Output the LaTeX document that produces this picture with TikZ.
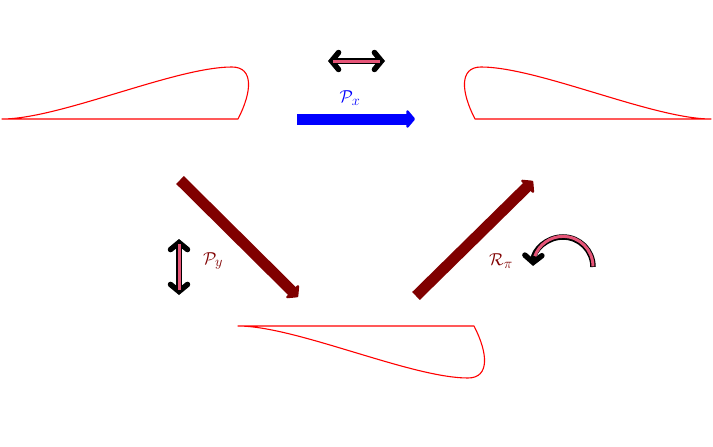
\documentclass[tikz,border=0pt]{standalone}
\usetikzlibrary{arrows.meta}
\definecolor{mar}{RGB}{128,0,0}
\definecolor{pnk}{RGB}{230,85,120}
\begin{document}
\begin{tikzpicture}[x=1pt,y=-1pt,
  wing/.style={draw=red, line width=1.1pt, line join=round},
  bigarrow/.style={line width=11pt, -{Triangle[round,length=9pt,width=21pt]}},
  dbl/.style={line width=5.5pt, black, {Straight Barb[length=7pt,width=17pt,line cap=round]}-{Straight Barb[length=7pt,width=17pt,line cap=round]}},
  pinkline/.style={line width=3pt, pnk},
  lbl/.style={font=\fontsize{19}{22}\selectfont}]
\useasboundingbox (0,0) rectangle (713,447);
% wing A (top left)
\draw[wing] (2,119) .. controls (60,119) and (175,67) .. (232,67)
  .. controls (254,67) and (252,92) .. (238,119) -- cycle;
% wing B (top right, mirrored)
\draw[wing] (711,119) .. controls (653,119) and (538,67) .. (481,67)
  .. controls (459,67) and (461,92) .. (475,119) -- cycle;
% wing C (bottom, flipped)
\draw[wing] (238,326) .. controls (296,326) and (411,378) .. (468,378)
  .. controls (490,378) and (488,353) .. (474,326) -- cycle;
% coordinates
\coordinate (bxs) at (297,119);
\coordinate (bxe) at (415,119);
\coordinate (a1s) at (180,180);
\coordinate (a1e) at (298,297);
\coordinate (a2s) at (416,296);
\coordinate (a2e) at (533,181);
% blue arrow
\draw[bigarrow, blue] (bxs) -- (bxe);
\node[lbl, blue] (px) at (350,98) {$\mathcal{P}_x$};
% dark red arrows
\draw[bigarrow, mar] (a1s) -- (a1e);
\draw[bigarrow, mar] (a2s) -- (a2e);
\node[lbl, mar] (py) at (213,261) {$\mathcal{P}_y$};
\node[lbl, mar] (rp) at (501,261) {$\mathcal{R}_\pi$};
% double arrows
\coordinate (hl) at (328,61);
\coordinate (hr) at (385,61);
\draw[dbl] (hl) -- (hr);
\draw[pinkline] ([xshift=5pt]hl) -- ([xshift=-5pt]hr);
\coordinate (vt) at (179,239);
\coordinate (vb) at (179,295);
\draw[dbl] (vt) -- (vb);
\draw[pinkline] ([yshift=-5pt]vt) -- ([yshift=5pt]vb);
% curved arrow
\coordinate (cs) at (593,267);
\draw[line width=5.5pt, black, -{Straight Barb[length=7pt,width=17pt,line cap=round]}]
  (cs) arc[start angle=0, end angle=-178, radius=30];
\draw[line width=3pt, pnk] ([yshift=0.6pt]cs) arc[start angle=0, end angle=-160, radius=30];
\end{tikzpicture}
\end{document}
